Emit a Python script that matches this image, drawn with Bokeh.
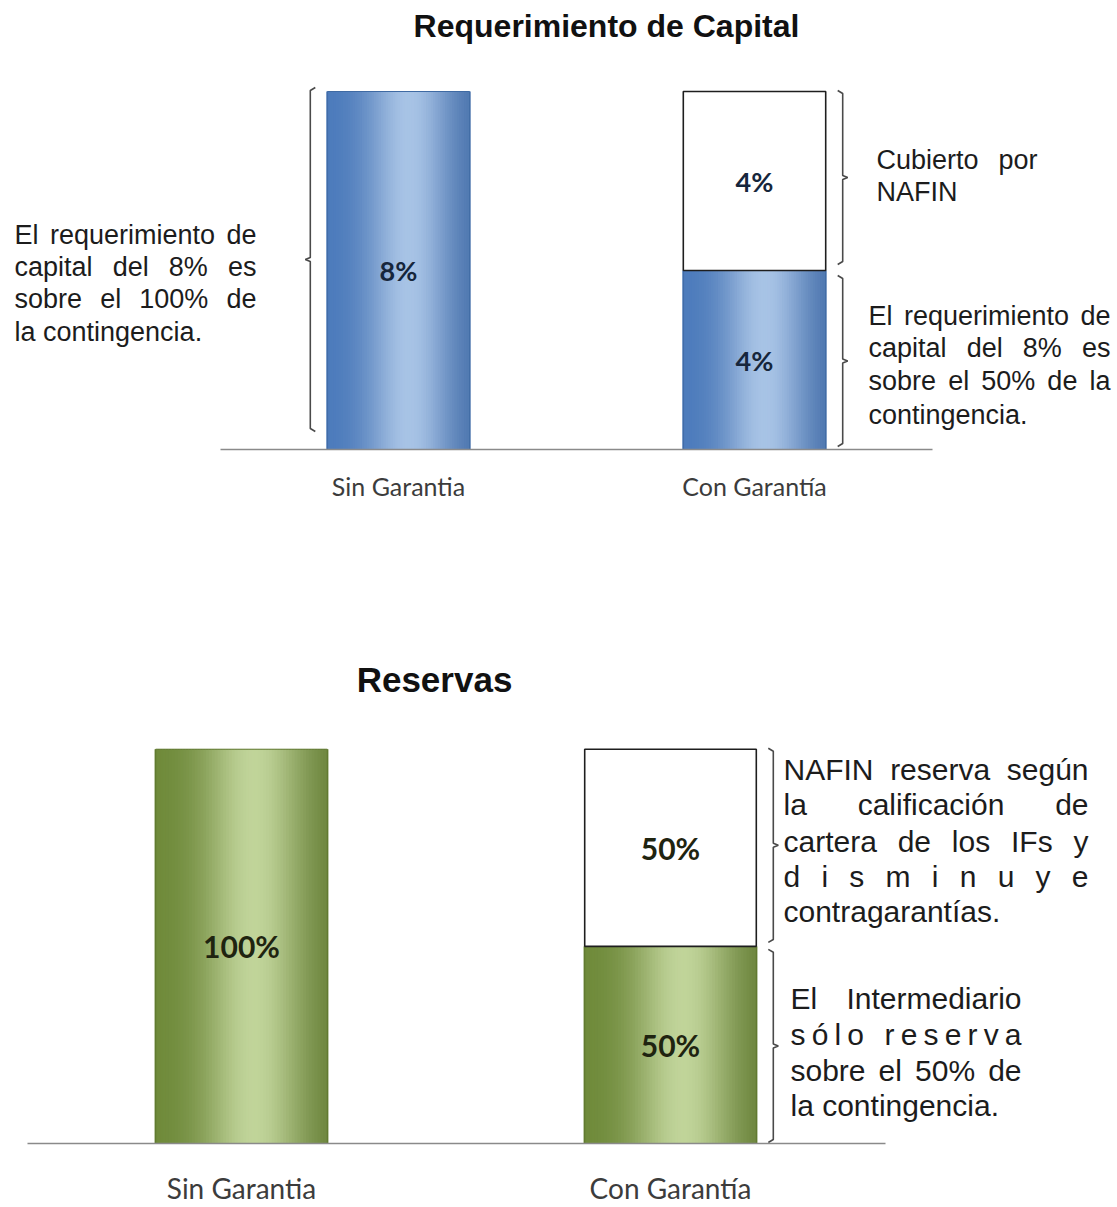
import numpy as np
from bokeh.plotting import figure
from bokeh.layouts import column
from bokeh.models import Range1d, FixedTicker
from bokeh.core.properties import value
from bokeh.embed import file_html
from bokeh.resources import INLINE

# ---------------- data ----------------
categories = ["Sin Garantia", "Con Garantía"]

capital_title = "Requerimiento de Capital"
capital_intermediario = [8, 4]     # % cubierto por el intermediario
capital_nafin = [0, 4]             # % cubierto por NAFIN
capital_label_inter = ["8%", "4%"]
capital_label_nafin = ["", "4%"]

reservas_title = "Reservas"
reservas_intermediario = [100, 50]
reservas_nafin = [0, 50]
reservas_label_inter = ["100%", "50%"]
reservas_label_nafin = ["", "50%"]

capital_notes_left = ["El requerimiento de", "capital del 8% es", "sobre el 100% de", "la contingencia."]
capital_notes_nafin = ["Cubierto por", "NAFIN"]
capital_notes_inter = ["El requerimiento de", "capital del 8% es", "sobre el 50% de la", "contingencia."]
reservas_notes_nafin = ["NAFIN reserva según", "la calificación de", "cartera de los IFs y", "disminuye", "contragarantías."]
reservas_notes_inter = ["El Intermediario", "sólo reserva", "sobre el 50% de", "la contingencia."]

# ---------------- helpers ----------------
W = 1117
BAR_W = 0.4
TXT_FONT = "Liberation Sans"
LBL_FONT = "Lato"

ARIAL = {' ': 278, '%': 889, '.': 278, 'a': 556, 'b': 556, 'c': 500, 'd': 556, 'e': 556, 'f': 278,
         'g': 556, 'h': 556, 'i': 222, 'j': 222, 'k': 500, 'l': 222, 'm': 833, 'n': 556, 'o': 556,
         'p': 556, 'q': 556, 'r': 333, 's': 500, 't': 278, 'u': 556, 'v': 500, 'w': 722, 'x': 500,
         'y': 500, 'z': 500, 'A': 667, 'C': 722, 'E': 667, 'F': 611, 'I': 278, 'N': 722, 'S': 667,
         'á': 556, 'é': 556, 'í': 278, 'ó': 556, 'ú': 556}


def tw(s, size):
    return sum(ARIAL.get(ch, 556) for ch in s) * size / 1000.0


class Conv:
    def __init__(self, x0px, xunit, basepx, yunit, frame_h):
        self.x0px, self.xunit, self.basepx, self.yunit, self.frame_h = x0px, xunit, basepx, yunit, frame_h

    def x(self, px):
        return (px - self.x0px) / self.xunit

    def y(self, py):
        return (self.basepx - py) / self.yunit

    def px(self, x):
        return self.x0px + x * self.xunit

    def py(self, y):
        return self.basepx - y * self.yunit


def mix(c1, c2, m):
    return "#%02x%02x%02x" % tuple(int(round(a * (1 - m) + b * m)) for a, b in zip(c1, c2))


def make_fig(conv, height, bottom_border, standoff, lbl_size):
    p = figure(width=W, height=height,
               x_range=Range1d(conv.x(0), conv.x(W)),
               y_range=Range1d(0, conv.y(conv.basepx - conv.frame_h)),
               output_backend="svg", toolbar_location=None, y_axis_location=None,
               min_border_left=0, min_border_right=0, min_border_top=0,
               min_border_bottom=bottom_border)
    p.grid.visible = False
    p.outline_line_color = None
    p.background_fill_color = "white"
    p.border_fill_color = "white"
    ax = p.xaxis[0]
    ax.ticker = FixedTicker(ticks=list(range(len(categories))))
    ax.major_label_overrides = {i: c for i, c in enumerate(categories)}
    ax.bounds = (-0.5, len(categories) - 0.5)
    ax.axis_line_color = "#8a8a8a"
    ax.axis_line_width = 1.3
    ax.major_tick_line_color = None
    ax.minor_tick_line_color = None
    ax.major_label_standoff = standoff
    ax.major_label_text_font = LBL_FONT
    ax.major_label_text_font_size = f"{lbl_size}px"
    ax.major_label_text_color = "#3c3c3c"
    return p


def draw_bars(p, inter, nafin, edge, center, outline):
    n = 60
    xs, tops, cols = [], [], []
    sw = BAR_W / n
    for i, v in enumerate(inter):
        for k in range(n):
            t = (k + 0.5) / n
            m = np.exp(-((t - 0.58) / 0.30) ** 2) * 0.92
            shade = 1.03 - 0.10 * t  # slightly darker on the right
            e = tuple(min(255, c * shade) for c in edge)
            xs.append(i - BAR_W / 2 + (k + 0.5) * sw)
            tops.append(v)
            cols.append(mix(e, center, m))
    p.vbar(x=xs, width=sw * 1.8, bottom=0, top=tops, fill_color=cols, line_color=None)
    idx = list(range(len(inter)))
    p.vbar(x=idx, width=BAR_W, bottom=0, top=inter, fill_color=None, line_color=outline, line_width=1)
    tot = [a + b for a, b in zip(inter, nafin)]
    keep = [i for i in idx if nafin[i] > 0]
    p.vbar(x=keep, width=BAR_W, bottom=[inter[i] for i in keep], top=[tot[i] for i in keep],
           fill_color="white", line_color="#1e1e1e", line_width=1.6)


def bar_labels(p, inter, nafin, lab_i, lab_n, size, color):
    xs, ys, ts = [], [], []
    for i in range(len(inter)):
        xs.append(i); ys.append(inter[i] / 2); ts.append(lab_i[i])
        if nafin[i] > 0:
            xs.append(i); ys.append(inter[i] + nafin[i] / 2); ts.append(lab_n[i])
    p.text(x=xs, y=ys, text=ts, text_align="center", text_baseline="middle",
           text_font=value(LBL_FONT), text_font_style="bold", text_font_size=f"{size}px",
           text_color=color)


def brace(p, conv, i, side, ylo, yhi, inset_lo, inset_hi, gap=17, hook=5, nub=5):
    if side > 0:
        xpx = conv.px(i + BAR_W / 2) + gap
    else:
        xpx = conv.px(i - BAR_W / 2) - gap
    top = conv.py(yhi) + inset_hi
    bot = conv.py(ylo) - inset_lo
    mid = (top + bot) / 2
    pts = [(xpx - side * hook, top - 1), (xpx, top + 2), (xpx, mid - 2), (xpx + side * nub, mid),
           (xpx, mid + 2), (xpx, bot - 2), (xpx - side * hook, bot + 1)]
    p.line(x=[conv.x(a) for a, _ in pts], y=[conv.y(b) for _, b in pts],
           line_color="#4a4a4a", line_width=1.6)


def notes(p, conv, lines, ys, left, right, size, modes):
    xs, yv, ts = [], [], []
    for text, ypx, mode in zip(lines, ys, modes):
        if mode == "left":
            xs.append(conv.x(left)); yv.append(conv.y(ypx)); ts.append(text)
            continue
        tokens = list(text) if mode == "letters" else text.split(" ")
        widths = [tw(t if t else " ", size) for t in tokens]
        gap = (right - left - sum(widths)) / (len(tokens) - 1)
        cur = left
        for t, w_ in zip(tokens, widths):
            if t.strip():
                xs.append(conv.x(cur)); yv.append(conv.y(ypx)); ts.append(t)
            cur += w_ + gap
    p.text(x=xs, y=yv, text=ts, text_align="left", text_baseline="middle",
           text_font=value(TXT_FONT), text_font_size=f"{size}px", text_color="#1c1c1c")


# ---------------- top chart ----------------
c1 = Conv(x0px=398, xunit=356, basepx=449, yunit=44.75, frame_h=449)
p1 = make_fig(c1, height=560, bottom_border=111, standoff=15, lbl_size=25)
draw_bars(p1, capital_intermediario, capital_nafin, edge=(72, 118, 182), center=(176, 202, 234),
          outline="#3f6aa3")
bar_labels(p1, capital_intermediario, capital_nafin, capital_label_inter, capital_label_nafin,
           27, "#16263c")
p1.text(x=[c1.x(606)], y=[c1.y(25)], text=[capital_title], text_align="center",
        text_baseline="middle", text_font=value(TXT_FONT), text_font_style="bold",
        text_font_size="32px", text_color="#111111")
brace(p1, c1, 0, -1, 0, capital_intermediario[0], 19, -3)
brace(p1, c1, 1, +1, capital_intermediario[1], capital_intermediario[1] + capital_nafin[1], 7, 0)
brace(p1, c1, 1, +1, 0, capital_intermediario[1], 4, 6)
notes(p1, c1, capital_notes_left, [234, 266, 298, 331], 14, 256, 27,
      ["just", "just", "just", "left"])
notes(p1, c1, capital_notes_nafin, [159, 191], 876, 1037, 27, ["just", "left"])
notes(p1, c1, capital_notes_inter, [315, 347, 380, 414], 868, 1110, 27,
      ["just", "just", "just", "left"])

# ---------------- bottom chart ----------------
c2 = Conv(x0px=241, xunit=429, basepx=590, yunit=3.99, frame_h=590)
p2 = make_fig(c2, height=647, bottom_border=57, standoff=21, lbl_size=28)
draw_bars(p2, reservas_intermediario, reservas_nafin, edge=(106, 133, 54), center=(200, 219, 162),
          outline="#5e772e")
bar_labels(p2, reservas_intermediario, reservas_nafin, reservas_label_inter, reservas_label_nafin,
           30, "#1f2410")
p2.text(x=[c2.x(434)], y=[c2.y(680 - 560)], text=[reservas_title], text_align="center",
        text_baseline="middle", text_font=value(TXT_FONT), text_font_style="bold",
        text_font_size="35px", text_color="#111111")
brace(p2, c2, 1, +1, reservas_intermediario[1], reservas_intermediario[1] + reservas_nafin[1], 5, 0)
brace(p2, c2, 1, +1, 0, reservas_intermediario[1], 2, 4)
notes(p2, c2, reservas_notes_nafin, [y - 560 for y in [772, 807, 844, 880, 915]], 783, 1088, 30,
      ["just", "just", "just", "letters", "left"])
notes(p2, c2, reservas_notes_inter, [y - 560 for y in [1003, 1040, 1076, 1112]], 790, 1021, 30,
      ["just", "letters", "just", "left"])

layout = column(p1, p2, spacing=0)
open("out.html", "w").write(file_html(layout, INLINE))
